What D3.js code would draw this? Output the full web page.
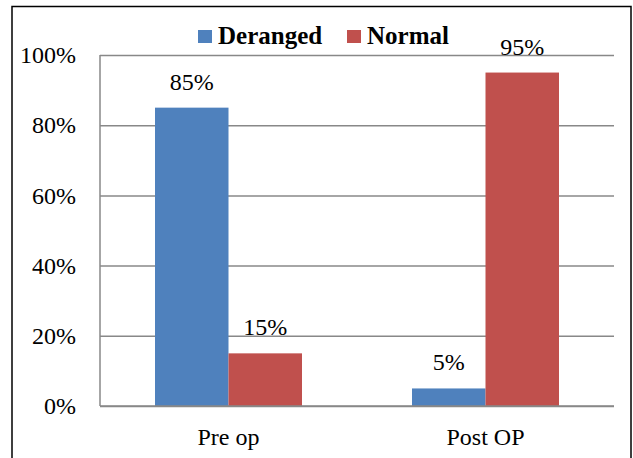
<!DOCTYPE html>
<html>
<head>
<meta charset="utf-8">
<script src="https://cdn.jsdelivr.net/npm/d3@7"></script>
<style>
  html, body { margin: 0; padding: 0; background: #fff; }
  svg { display: block; }
  text { font-family: "Liberation Serif", "Times New Roman", serif; fill: #000; }
</style>
</head>
<body>
<svg id="chart" width="633" height="458"></svg>
<script>
// Share of patients by status, before and after the operation
const categories = ["Pre op", "Post OP"];
const seriesNames = ["Deranged", "Normal"];
const deranged = [0.85, 0.05];
const normal = [0.15, 0.95];
const yTicks = [0, 0.2, 0.4, 0.6, 0.8, 1.0];
const colors = ["#4F81BD", "#C0504D"];

const seriesValues = [deranged, normal];
const rows = categories.map((c, i) => ({
  category: c,
  values: seriesNames.map((s, j) => ({ series: s, value: seriesValues[j][i], color: colors[j] }))
}));

const svg = d3.select("#chart");
const margin = { left: 100, right: 19, top: 55, bottom: 52 };
const W = 633, H = 458;
const plotW = W - margin.left - margin.right;
const plotH = H - margin.top - margin.bottom;

// Outer frame (open at the bottom)
svg.append("path")
  .attr("d", `M12,${H + 2} L12,6.5 L631,6.5 L631,${H + 2}`)
  .attr("fill", "none")
  .attr("stroke", "#000")
  .attr("stroke-width", 1.5);

const g = svg.append("g").attr("transform", `translate(${margin.left},${margin.top})`);

const x0 = d3.scaleBand().domain(categories).range([0, plotW]).paddingInner(0).paddingOuter(0);
const groupW = 147;
const x1 = d3.scaleBand().domain(seriesNames)
  .range([(x0.bandwidth() - groupW) / 2, (x0.bandwidth() + groupW) / 2]);
const y = d3.scaleLinear().domain([0, 1]).range([plotH, 0]);

// Gridlines
const yAxis = d3.axisLeft(y).tickValues(yTicks).tickSize(-plotW).tickFormat(d3.format(".0%")).tickPadding(24);
const ya = g.append("g").call(yAxis);
ya.select(".domain").remove();
ya.selectAll(".tick line").attr("stroke", "#888").attr("stroke-width", 1.5);
ya.selectAll(".tick text")
  .attr("font-size", 24)
  .attr("font-family", "'Liberation Serif', 'Times New Roman', serif")
  .attr("fill", "#000");

// Vertical axis line
g.append("line")
  .attr("x1", 0).attr("x2", 0)
  .attr("y1", y(1)).attr("y2", y(0))
  .attr("stroke", "#888").attr("stroke-width", 1.5);

// Bars
const groups = g.selectAll(".grp").data(rows).join("g")
  .attr("class", "grp")
  .attr("transform", d => `translate(${x0(d.category)},0)`);

groups.selectAll("rect").data(d => d.values).join("rect")
  .attr("x", d => x1(d.series))
  .attr("width", x1.bandwidth())
  .attr("y", d => y(d.value))
  .attr("height", d => y(0) - y(d.value))
  .attr("fill", d => d.color);

// Value labels
groups.selectAll("text.val").data(d => d.values).join("text")
  .attr("class", "val")
  .attr("x", d => x1(d.series) + x1.bandwidth() / 2)
  .attr("y", d => y(d.value) - 18)
  .attr("text-anchor", "middle")
  .attr("font-size", 24)
  .text(d => d3.format(".0%")(d.value));

// Category labels
const xa = g.append("g").attr("transform", `translate(0,${plotH})`)
  .call(d3.axisBottom(x0).tickSize(0).tickPadding(22));
xa.select(".domain").remove();
xa.selectAll(".tick text")
  .attr("font-size", 24)
  .attr("font-family", "'Liberation Serif', 'Times New Roman', serif")
  .attr("fill", "#000");

// Baseline
g.append("line")
  .attr("x1", 0).attr("x2", plotW)
  .attr("y1", y(0)).attr("y2", y(0))
  .attr("stroke", "#888").attr("stroke-width", 1.5);

// Legend
const legendX = [198, 347];
const legend = svg.selectAll(".leg").data(seriesNames).join("g")
  .attr("class", "leg")
  .attr("transform", (d, i) => `translate(${legendX[i]},30)`);
legend.append("rect")
  .attr("width", 14).attr("height", 13)
  .attr("fill", (d, i) => colors[i]);
legend.append("text")
  .attr("x", 20).attr("y", 14)
  .attr("font-size", 25)
  .attr("font-weight", "bold")
  .text(d => d);
</script>
</body>
</html>
